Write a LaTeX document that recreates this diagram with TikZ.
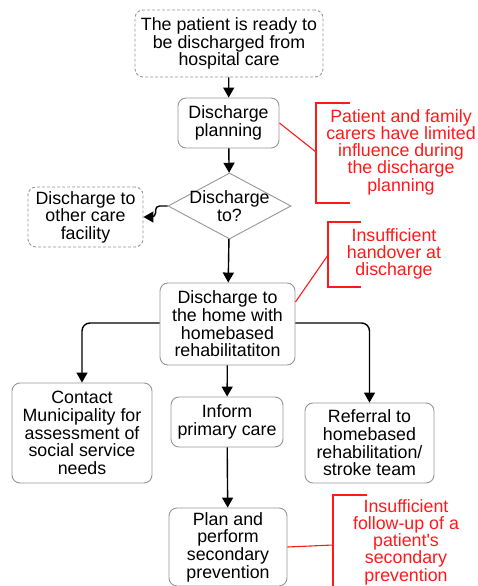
\documentclass[tikz,border=0pt]{standalone}
\usepackage{fontspec}
\setmainfont{Liberation Sans}
\usepackage{tikz}
\usetikzlibrary{arrows.meta, shapes.geometric}
\definecolor{boxgray}{RGB}{150,150,150}
\definecolor{issuered}{RGB}{255,25,25}
\tikzset{
  flowbox/.style={draw=boxgray, rounded corners=8pt, line width=0.9pt, align=center, inner sep=0pt, font=\fontsize{17.8}{17.6}\selectfont},
  openbox/.style={flowbox, dash pattern=on 3pt off 2pt},
  choice/.style={diamond, draw=boxgray, line width=0.9pt, inner sep=0pt, minimum width=123pt, minimum height=66pt},
  issue/.style={text=issuered, align=center, font=\fontsize{17.8}{17.2}\selectfont},
  flag/.style={draw=issuered, line width=1.1pt},
  arr/.style={-{Triangle[length=10pt, width=11pt]}, line width=1.4pt, black}
}

\begin{document}
\begin{tikzpicture}[x=1pt, y=-1pt]

\useasboundingbox (0,0) rectangle (477,586);
\clip (0,0) rectangle (477,586);

\node[openbox, minimum width=188pt, minimum height=67pt] (ready) at (229,43.5) {The patient is ready to\\be discharged from\\hospital care};
\node[flowbox, minimum width=101pt, minimum height=50pt] (plan) at (228.5,123) {Discharge\\planning};
\node[choice] (dest) at (229.5,206) {};
\node[align=center, font=\fontsize{17.8}{17.6}\selectfont] (destlbl) at (dest) {Discharge\\to?};
\node[openbox, minimum width=115pt, minimum height=60pt] (other) at (85.5,217) {Discharge to\\other care\\facility};
\node[flowbox, minimum width=135pt, minimum height=82pt] (home) at (227.5,324) {Discharge to\\the home with\\homebased\\rehabilitatiton};
\node[flowbox, minimum width=140pt, minimum height=100pt] (muni) at (82,433) {Contact\\Municipality for\\assessment of\\social service\\needs};
\node[flowbox, minimum width=112pt, minimum height=50pt] (inform) at (227,422) {Inform\\primary care};
\node[flowbox, minimum width=129pt, minimum height=80pt] (refer) at (369.5,443) {Referral to\\homebased\\rehabilitation/\\stroke team};
\node[flowbox, minimum width=118pt, minimum height=78pt] (prev) at (228,547) {Plan and\\perform\\secondary\\prevention};

\draw[arr] (ready) -- (plan);
\draw[arr] (plan) -- (dest);
\draw[arr, rounded corners=4pt] (dest.west) -- ++(-12,0) |- (other.east);
\draw[arr] (dest) -- (home);
\draw[arr, rounded corners=8pt] (home.west |- 0,323) -| (muni.north);
\draw[arr] (home) -- (inform);
\draw[arr, rounded corners=8pt] (home.east |- 0,323) -| (refer.north);
\draw[arr] (inform) -- (prev);

\node[issue] (influence) at (401,152) {Patient and family\\carers have limited\\influence during\\the discharge\\planning};
\coordinate (influencetip) at (316,152);
\draw[flag] (350,103) -| (316,203) -- (350,203);
\draw[flag] (plan.east) -- (influencetip);

\node[issue] (handover) at (394,254) {Insufficient\\handover at\\discharge};
\coordinate (handovertip) at (328,255);
\draw[flag] (361,222) -| (328,287) -- (361,287);
\draw[flag] (home.east |- 0,302) -- (handovertip);

\node[issue] (followup) at (406,542) {Insufficient\\follow-up of a\\patient\textquotesingle s\\secondary\\prevention};
\coordinate (followuptip) at (333,545);
\draw[flag] (367,495) -| (333,600);
\draw[flag] (prev.east) -- (followuptip);

\end{tikzpicture}
\end{document}
